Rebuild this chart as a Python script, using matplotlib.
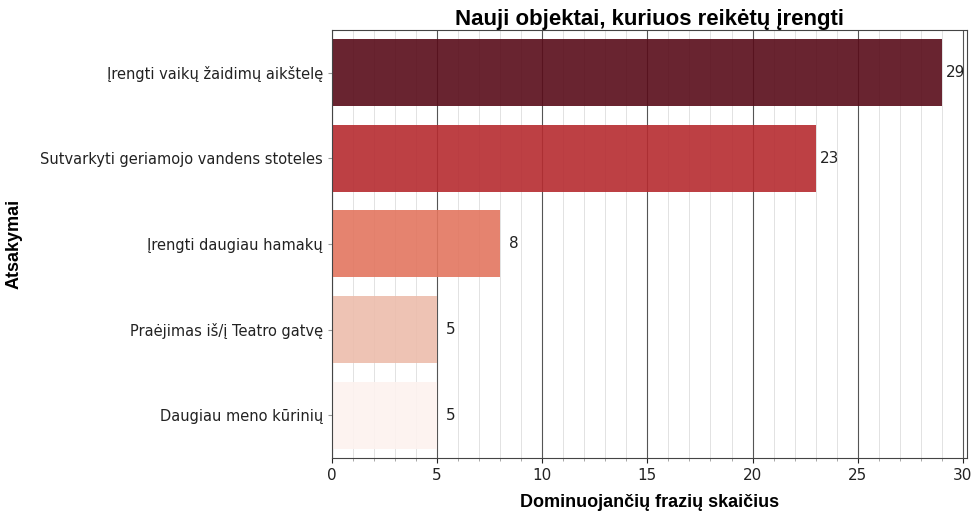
import matplotlib
matplotlib.use("Agg")
import matplotlib.pyplot as plt
from matplotlib.ticker import MultipleLocator

categories = ["Įrengti vaikų žaidimų aikštelę", "Sutvarkyti geriamojo vandens stoteles",
              "Įrengti daugiau hamakų", "Praėjimas iš/į Teatro gatvę", "Daugiau meno kūrinių"]
counts = [29, 23, 8, 5, 5]
colors = ["#590c19", "#b62b30", "#e3765f", "#edbdac", "#fdf2ef"]

fig = plt.figure(figsize=(9.73, 5.14), dpi=100)
ax = fig.add_axes([0.341, 0.109, 0.653, 0.833])

y = list(range(len(categories)))
ax.barh(y, counts, height=0.78, color=colors, alpha=0.9, zorder=2)
for yi, v in zip(y, counts):
    ax.text(v + 0.65, yi, str(v), va="center", ha="center", fontsize=11, color="#222222")

ax.set_yticks(y)
ax.set_yticklabels(categories, fontsize=10.5, color="#222222")
ax.set_ylim(4.5, -0.5)
ax.set_xlim(0, 30.2)
ax.xaxis.set_major_locator(MultipleLocator(5))
ax.xaxis.set_minor_locator(MultipleLocator(1))
ax.tick_params(axis="x", labelsize=11, colors="#222222")
ax.tick_params(axis="y", length=3, color="#999999")
ax.tick_params(axis="x", which="minor", length=2, color="#999999")
ax.grid(axis="x", which="major", color="#555555", lw=0.8, zorder=0)
ax.grid(axis="x", which="minor", color="#dddddd", lw=0.6, zorder=0)
ax.set_axisbelow(True)
for s in ax.spines.values():
    s.set_color("#444444")
    s.set_linewidth(0.8)

ax.set_title("Nauji objektai, kuriuos reikėtų įrengti", fontsize=16, fontweight="bold",
             family="Liberation Sans", pad=3)
ax.set_xlabel("Dominuojančių frazių skaičius", fontsize=13, fontweight="bold",
              family="Liberation Sans", va="center")
ax.xaxis.set_label_coords(0.5, -0.105)
ax.set_ylabel("Atsakymai", fontsize=13, fontweight="bold", family="Liberation Sans", va="center")
ax.yaxis.set_label_coords(-0.5, 0.5)

fig.savefig("out.png", dpi=100)
